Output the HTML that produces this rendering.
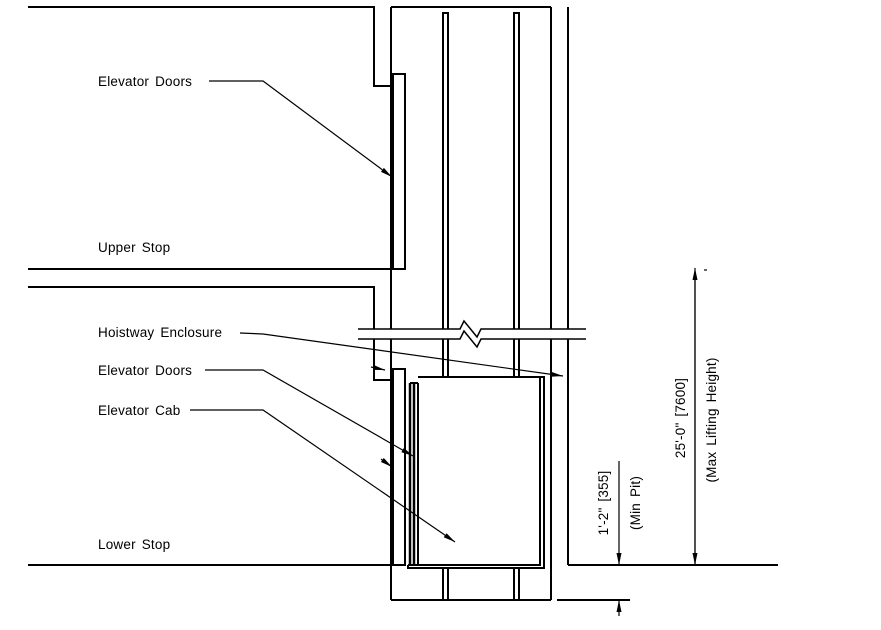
<!DOCTYPE html>
<html><head><style>
html,body{margin:0;padding:0;background:#fff;}
svg{display:block}
text{font-family:"Liberation Sans",Arial,sans-serif;font-size:13.5px;fill:#000;word-spacing:2px;letter-spacing:0.2px;}
</style></head><body>
<svg width="881" height="630" viewBox="0 0 881 630" xmlns="http://www.w3.org/2000/svg">
<defs>
<marker id="ah" viewBox="0 0 12 5" refX="12" refY="2.5" markerWidth="12" markerHeight="5" orient="auto" markerUnits="userSpaceOnUse">
<path d="M0,0 L12,2.5 L0,5 Z" fill="#000"/></marker>
</defs>
<g fill="none" stroke="#000" stroke-width="2">
<polyline points="28,7 374,7 374,86 391,86"/>
<line x1="28" y1="269" x2="393" y2="269"/>
<rect x="393" y="74" width="12" height="195"/>
<polyline points="391,7 391,329"/>
<line x1="391" y1="7" x2="551" y2="7"/>
<line x1="551" y1="7" x2="551" y2="329"/>
<line x1="568" y1="7" x2="568" y2="329"/>
<polyline points="443,329 443,13 448,13 448,329"/>
<polyline points="514,329 514,13 519,13 519,329"/>
<polyline points="28,287 374,287 374,329"/>
<polyline points="374,339 374,380 391,380"/>
<line x1="391" y1="339" x2="391" y2="600"/>
<line x1="551" y1="339" x2="551" y2="600"/>
<line x1="391" y1="600" x2="551" y2="600"/>
<line x1="568" y1="339" x2="568" y2="565"/>
<line x1="568" y1="565" x2="778" y2="565"/>
<line x1="28" y1="565" x2="393" y2="565"/>
<rect x="393" y="369" width="12" height="196"/>
<line x1="443" y1="339" x2="443" y2="377"/><line x1="448" y1="339" x2="448" y2="377"/>
<line x1="514" y1="339" x2="514" y2="377"/><line x1="519" y1="339" x2="519" y2="377"/>
<line x1="443" y1="568" x2="443" y2="600"/><line x1="448" y1="568" x2="448" y2="600"/>
<line x1="514" y1="568" x2="514" y2="600"/><line x1="519" y1="568" x2="519" y2="600"/>
<polyline points="418,377 540,377 540,565 408,565"/>
<polyline points="540,377 544,377 544,568 408,568 408,565"/>
<line x1="410" y1="383" x2="410" y2="565" stroke-width="2.5"/>
<line x1="414" y1="383" x2="414" y2="565" stroke-width="2.5"/>
<line x1="418" y1="383" x2="418" y2="565"/>
<line x1="410" y1="383" x2="418" y2="383"/>
<line x1="557" y1="600" x2="630" y2="600"/>
</g>
<g fill="none" stroke="#000" stroke-width="1.5">
<polyline points="358,329 460,329 464,321 477,337 481,329 586,329"/>
<polyline points="358,339 460,339 464,331 477,347 481,339 586,339"/>
</g>
<g fill="none" stroke="#000" stroke-width="1.2">
<polyline points="209,81 263,81 392,177" marker-end="url(#ah)"/>
<polyline points="240,333 263,334 563,376" marker-end="url(#ah)"/>
<polyline points="205,370 263,370 413,456" marker-end="url(#ah)"/>
<polyline points="190,410 263,410 455,542" marker-end="url(#ah)"/>
<line x1="371" y1="367" x2="385" y2="370" marker-end="url(#ah)"/>
<line x1="381" y1="459" x2="392" y2="467" marker-end="url(#ah)"/>
<line x1="695" y1="565" x2="695" y2="268" marker-end="url(#ah)"/>
<line x1="695" y1="280" x2="695" y2="565" marker-end="url(#ah)"/>
<line x1="619" y1="461" x2="619" y2="565" marker-end="url(#ah)"/>
<line x1="619" y1="616" x2="619" y2="600" marker-end="url(#ah)"/>
<line x1="704" y1="270" x2="707" y2="270"/>
</g>
<text x="98" y="86">Elevator Doors</text>
<text x="98" y="252">Upper Stop</text>
<text x="98" y="337">Hoistway Enclosure</text>
<text x="98" y="375">Elevator Doors</text>
<text x="98" y="415">Elevator Cab</text>
<text x="98" y="549">Lower Stop</text>
<text transform="translate(685,418) rotate(-90)" text-anchor="middle">25'-0" [7600]</text>
<text transform="translate(716,420) rotate(-90)" text-anchor="middle">(Max Lifting Height)</text>
<text transform="translate(608,503) rotate(-90)" text-anchor="middle">1'-2" [355]</text>
<text transform="translate(640,503) rotate(-90)" text-anchor="middle">(Min Pit)</text>
</svg>
</body></html>
